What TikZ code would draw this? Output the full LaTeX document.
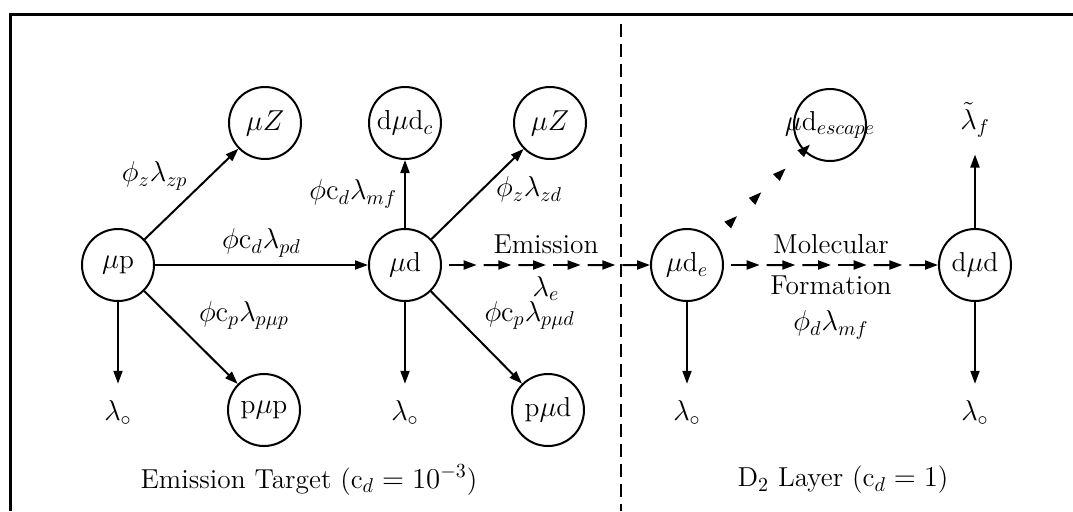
\documentclass[tikz,border=0pt]{standalone}
\usepackage{amsmath}
\usepackage{tikz}
\usetikzlibrary{arrows.meta,calc}
\tikzset{
  state/.style={draw, circle, line width=1pt, minimum size=36pt, inner sep=0pt},
  rate/.style={-{Triangle[length=6.5pt,width=4.5pt]}, line width=1pt},
  fluxseg/.style={rate, shorten <=3.5pt},
  escseg/.style={rate, shorten <=10.5pt},
  lab/.style={inner sep=1.5pt},
  decay/.style={rate, shorten >=5pt},
}

\begin{document}
\begin{tikzpicture}[x=0.5pt, y=-0.5pt, font=\fontsize{13.7}{18}\selectfont]
\useasboundingbox (0,0) rectangle (1073,511);

\draw[line width=1.5pt] (10,511) -- (10,14) -- (1073,14);
\draw[line width=1.2pt, dash pattern=on 6.5pt off 3.5pt] (621,24) -- (621,511);

\node[state] (mup)   at (118,265) {$\mu$p};
\node[state] (muZa)  at (265,123) {$\mu Z$};
\node[state] (pmup)  at (264,410) {p$\mu$p};
\node[state] (mud)   at (405,265) {$\mu$d};
\node[state] (dmudc) at (405,123) {d$\mu$d$_c$};
\node[state] (muZb)  at (550,123) {$\mu Z$};
\node[state] (pmud)  at (548,410) {p$\mu$d};
\node[state] (mude)  at (687,265) {$\mu$d$_e$};
\node[state] (dmud)  at (975,265) {d$\mu$d};
\node[state] (esc)   at (830,125) {};
\node (esclab) at (esc) {$\mu$d$_{escape}$};
\node (lf) at (975,120) {$\tilde{\lambda}_f$};

\node (lo1) at (118,413) {$\lambda_\circ$};
\node (lo2) at (405,413) {$\lambda_\circ$};
\node (lo3) at (687,413) {$\lambda_\circ$};
\node (lo4) at (975,413) {$\lambda_\circ$};

\draw[rate] (mup) -- node[lab, above left] {$\phi_z\lambda_{zp}$} (muZa);
\draw[rate] (mup) -- node[lab, above=2pt] {$\phi\mathrm{c}_d\lambda_{pd}$} (mud);
\draw[rate] (mup) -- node[lab, above right=2pt] {$\phi\mathrm{c}_p\lambda_{p\mu p}$} (pmup);
\draw[rate] (mud) -- node[lab, left=2pt] {$\phi\mathrm{c}_d\lambda_{mf}$} (dmudc);
\draw[rate] (mud) -- node[lab, pos=0.55, right=5pt] {$\phi_z\lambda_{zd}$} (muZb);
\draw[rate] (mud) -- node[lab, above right=2pt] {$\phi\mathrm{c}_p\lambda_{p\mu d}$} (pmud);

\foreach \s/\t in {mup/lo1, mud/lo2, mude/lo3, dmud/lo4}
  \draw[decay] (\s) -- (\t);
\draw[decay] (dmud) -- (lf);

\foreach \k in {1,...,6} {
  \draw[fluxseg] ($(mud.east)!{(\k-1)/6}!(mude.west)$) -- ($(mud.east)!{\k/6}!(mude.west)$);
  \draw[fluxseg] ($(mude.east)!{(\k-1)/6}!(dmud.west)$) -- ($(mude.east)!{\k/6}!(dmud.west)$);
}
\coordinate (e0) at ($(mude)!18pt!(esc)$);
\coordinate (e1) at ($(esc)!14pt!(mude)$);
\foreach \k in {1,...,4}
  \draw[escseg] ($(e0)!{(\k-1)/4}!(e1)$) -- ($(e0)!{\k/4}!(e1)$);

\node[above=2pt] (emis) at ($(mud.east)!0.5!(mude.west)$) {Emission};
\node[below=2pt] (lame) at ($(mud.east)!0.5!(mude.west)$) {$\lambda_e$};
\node[above=2pt] (molec) at ($(mude.east)!0.5!(dmud.west)$) {Molecular};
\node[below=2pt, align=center] (form) at ($(mude.east)!0.5!(dmud.west)$)
  {Formation\\$\phi_d\lambda_{mf}$};

\node (target) at (309,480) {Emission Target (c$_d = 10^{-3}$)};
\node (layer) at (843,480) {D$_2$ Layer (c$_d = 1$)};

\end{tikzpicture}
\end{document}
